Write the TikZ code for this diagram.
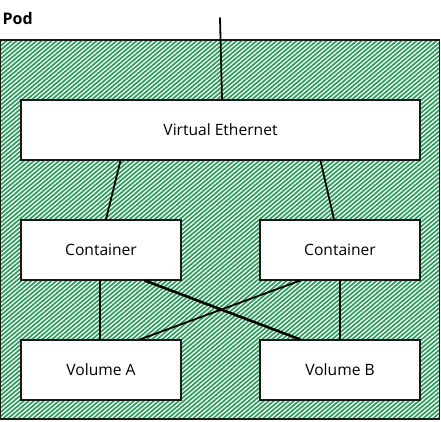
\documentclass[tikz,border=0pt]{standalone}
\usepackage{fontspec}
\setmainfont{Open Sans}
\usepackage{tikz}
\usetikzlibrary{calc}
\definecolor{hatch}{HTML}{2E9E5C}
\definecolor{edge}{HTML}{1A1A1A}
\tikzset{
  box/.style={draw=edge, fill=white, line width=1.2pt, minimum height=60pt, inner sep=0pt, font=\fontsize{15.6}{18}\selectfont},
  wire/.style={draw=black, line width=1.8pt, line cap=round},
  thick wire/.style={draw=black, line width=2.6pt, line cap=round},
}
\begin{document}
\begin{tikzpicture}[x=1pt,y=-1pt]
  \useasboundingbox (0,0) rectangle (441,421);
  % pod frame with hatching
  \begin{scope}
    \clip (0.5,40) rectangle (439.5,419);
    \foreach \i in {-460,-455,...,445}
      \draw[hatch, line width=1.7pt] (\i,421) -- ({\i+455},38);
  \end{scope}
  \draw[edge, line width=1.4pt] (0.5,40) rectangle (439.5,419);
  \node[font=\fontsize{16}{18}\selectfont\bfseries, anchor=west, inner sep=0pt] (pod) at (2.5,18) {Pod};
  \coordinate (uplink) at (220,18);
  % boxes
  \node[box, minimum width=399pt] (ve) at (220.5,130) {Virtual Ethernet};
  \node[box, minimum width=160pt] (cl) at (101,250) {Container};
  \node[box, minimum width=160pt] (cr) at (340,250) {Container};
  \node[box, minimum width=160pt] (va) at (101,370) {Volume A};
  \node[box, minimum width=160pt] (vb) at (340,370) {Volume B};
  % links
  \draw[wire] (uplink) -- ([xshift=1.5pt]ve.north);
  \draw[wire] ([xshift=-100pt]ve.south) -- ([xshift=5pt]cl.north);
  \draw[wire] ([xshift=100pt]ve.south) -- ([xshift=-6pt]cr.north);
  \draw[wire] ([xshift=-1pt]cl.south) -- ([xshift=-1pt]va.north);
  \draw[wire] (cr.south) -- (vb.north);
  \draw[thick wire] ([xshift=44pt]cl.south) -- ([xshift=-40pt]vb.north);
  \draw[wire] ([xshift=-40pt]cr.south) -- ([xshift=39pt]va.north);
\end{tikzpicture}
\end{document}
